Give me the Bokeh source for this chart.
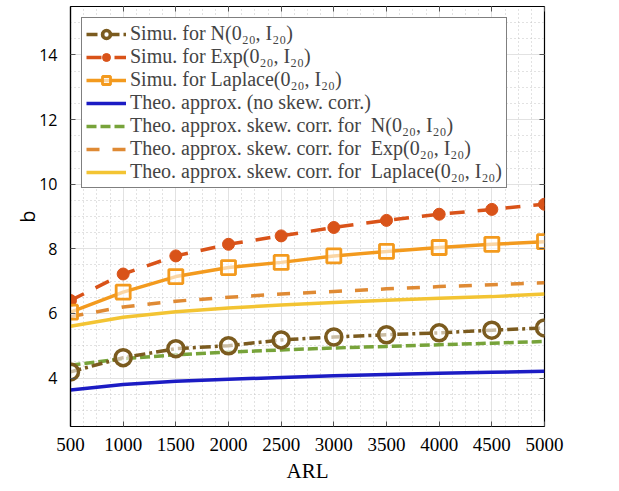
from bokeh.plotting import figure
from bokeh.models import (Legend, LegendItem, SingleIntervalTicker, Range1d,
                          LinearAxis, CustomJSTickFormatter)
from bokeh.embed import file_html
from bokeh.resources import INLINE

arl = [500, 1000, 1500, 2000, 2500, 3000, 3500, 4000, 4500, 5000]
simu_normal = [4.19, 4.63, 4.91, 5.00, 5.18, 5.27, 5.34, 5.40, 5.48, 5.55]
simu_exp = [6.40, 7.22, 7.78, 8.14, 8.40, 8.66, 8.88, 9.07, 9.22, 9.38]
simu_laplace = [6.04, 6.66, 7.14, 7.42, 7.58, 7.78, 7.92, 8.04, 8.14, 8.22]
theo_noskew = [3.63, 3.80, 3.90, 3.96, 4.02, 4.07, 4.11, 4.15, 4.18, 4.21]
theo_normal = [4.40, 4.60, 4.72, 4.80, 4.87, 4.93, 4.98, 5.03, 5.08, 5.13]
theo_exp = [5.90, 6.20, 6.38, 6.50, 6.60, 6.68, 6.76, 6.83, 6.89, 6.95]
theo_laplace = [5.60, 5.88, 6.05, 6.17, 6.26, 6.34, 6.41, 6.47, 6.52, 6.60]

labels = [
    "Simu. for N(0\u2082\u2080, I\u2082\u2080)",
    "Simu. for Exp(0\u2082\u2080, I\u2082\u2080)",
    "Simu. for Laplace(0\u2082\u2080, I\u2082\u2080)",
    "Theo. approx. (no skew. corr.)",
    "Theo. approx. skew. corr. for  N(0\u2082\u2080, I\u2082\u2080)",
    "Theo. approx. skew. corr. for  Exp(0\u2082\u2080, I\u2082\u2080)",
    "Theo. approx. skew. corr. for  Laplace(0\u2082\u2080, I\u2082\u2080)",
]

C_BROWN = "#7B5B1F"
C_RED = "#D95319"
C_ORANGE = "#F39A1E"
C_BLUE = "#1C1CC4"
C_GREEN = "#77A33A"
C_ODASH = "#DF8A34"
C_YELLOW = "#F3C433"

p = figure(frame_width=474, frame_height=420,
           x_range=Range1d(500, 5000), y_range=Range1d(2.5, 15.5),
           output_backend="svg", toolbar_location=None,
           min_border_left=70, min_border_right=25, min_border_top=6,
           min_border_bottom=45)

p.outline_line_color = "black"
p.outline_line_width = 1.2

p.xaxis.ticker = SingleIntervalTicker(interval=500, num_minor_ticks=4)
p.yaxis.ticker = SingleIntervalTicker(interval=2, num_minor_ticks=4)

for ax in (p.xaxis[0], p.yaxis[0]):
    ax.major_tick_in = 5
    ax.major_tick_out = 0
    ax.minor_tick_in = 0
    ax.minor_tick_out = 0
    ax.axis_line_color = "black"
    ax.axis_line_width = 1.2
    ax.major_tick_line_color = "#555555"
    ax.axis_label_text_font_style = "normal"
    ax.axis_label_text_color = "black"
    ax.major_label_text_color = "black"

p.xaxis.axis_label = "ARL"
p.xaxis.axis_label_text_font = "Liberation Serif"
p.xaxis.axis_label_text_font_size = "21px"
p.xaxis.major_label_text_font = "Liberation Serif"
p.xaxis.major_label_text_font_size = "19px"
p.xaxis.major_label_standoff = 11
p.xaxis.axis_label_standoff = 5

p.yaxis.axis_label = "b"
p.yaxis.axis_label_text_font = "Open Sans"
p.yaxis.axis_label_text_font_size = "20px"
p.yaxis.major_label_text_font = "Open Sans"
p.yaxis.major_label_text_font_size = "16px"
p.yaxis.major_label_standoff = 13
p.yaxis.axis_label_standoff = -5

blank = CustomJSTickFormatter(code="return ''")
top_ax = LinearAxis(ticker=SingleIntervalTicker(interval=500), formatter=blank,
                    major_tick_in=5, major_tick_out=0, minor_tick_in=0, minor_tick_out=0,
                    axis_line_color=None, major_tick_line_color="#555555",
                    major_label_standoff=0)
right_ax = LinearAxis(ticker=SingleIntervalTicker(interval=2), formatter=blank,
                      major_tick_in=5, major_tick_out=0, minor_tick_in=0, minor_tick_out=0,
                      axis_line_color=None, major_tick_line_color="#555555",
                      major_label_standoff=0)
p.add_layout(top_ax, "above")
p.add_layout(right_ax, "right")

for g in (p.xgrid[0], p.ygrid[0]):
    g.grid_line_color = "#e2e2e2"
    g.grid_line_width = 1
    g.minor_grid_line_color = "#c4c4c4"
    g.minor_grid_line_dash = "1 3"
    g.minor_grid_line_width = 1

r_blue = p.line(arl, theo_noskew, line_color=C_BLUE, line_width=3.5)
r_green = p.line(arl, theo_normal, line_color=C_GREEN, line_width=3.5, line_dash="10 4")
r_odash = p.line(arl, theo_exp, line_color=C_ODASH, line_width=3.5, line_dash="13 13")
r_yellow = p.line(arl, theo_laplace, line_color=C_YELLOW, line_width=3.5)

r_n_line = p.line(arl, simu_normal, line_color=C_BROWN, line_width=3.5, line_dash="11 4 3 4")
r_n_mark = p.scatter(arl, simu_normal, marker="circle", size=16, line_color=C_BROWN,
                     line_width=3.5, fill_color="white", fill_alpha=0.6)
r_e_line = p.line(arl, simu_exp, line_color=C_RED, line_width=3.5, line_dash="15 13")
r_e_mark = p.scatter(arl, simu_exp, marker="circle", size=12, line_color=C_RED,
                     fill_color=C_RED)
r_l_line = p.line(arl, simu_laplace, line_color=C_ORANGE, line_width=3.5)
r_l_mark = p.scatter(arl, simu_laplace, marker="square", size=14, line_color=C_ORANGE,
                     line_width=2.8, fill_color="white", fill_alpha=0.6)

items = [
    LegendItem(label=labels[0], renderers=[r_n_line, r_n_mark]),
    LegendItem(label=labels[1], renderers=[r_e_line, r_e_mark]),
    LegendItem(label=labels[2], renderers=[r_l_line, r_l_mark]),
    LegendItem(label=labels[3], renderers=[r_blue]),
    LegendItem(label=labels[4], renderers=[r_green]),
    LegendItem(label=labels[5], renderers=[r_odash]),
    LegendItem(label=labels[6], renderers=[r_yellow]),
]
legend = Legend(items=items, location="top_left",
                label_text_font="Liberation Serif", label_text_font_size="20px",
                glyph_width=40, glyph_height=20, label_height=20,
                spacing=0, padding=4, margin=11, label_standoff=4,
                border_line_color="black", border_line_width=1.2,
                background_fill_color="white", background_fill_alpha=1)
p.add_layout(legend)

open("out.html", "w").write(file_html(p, INLINE))
